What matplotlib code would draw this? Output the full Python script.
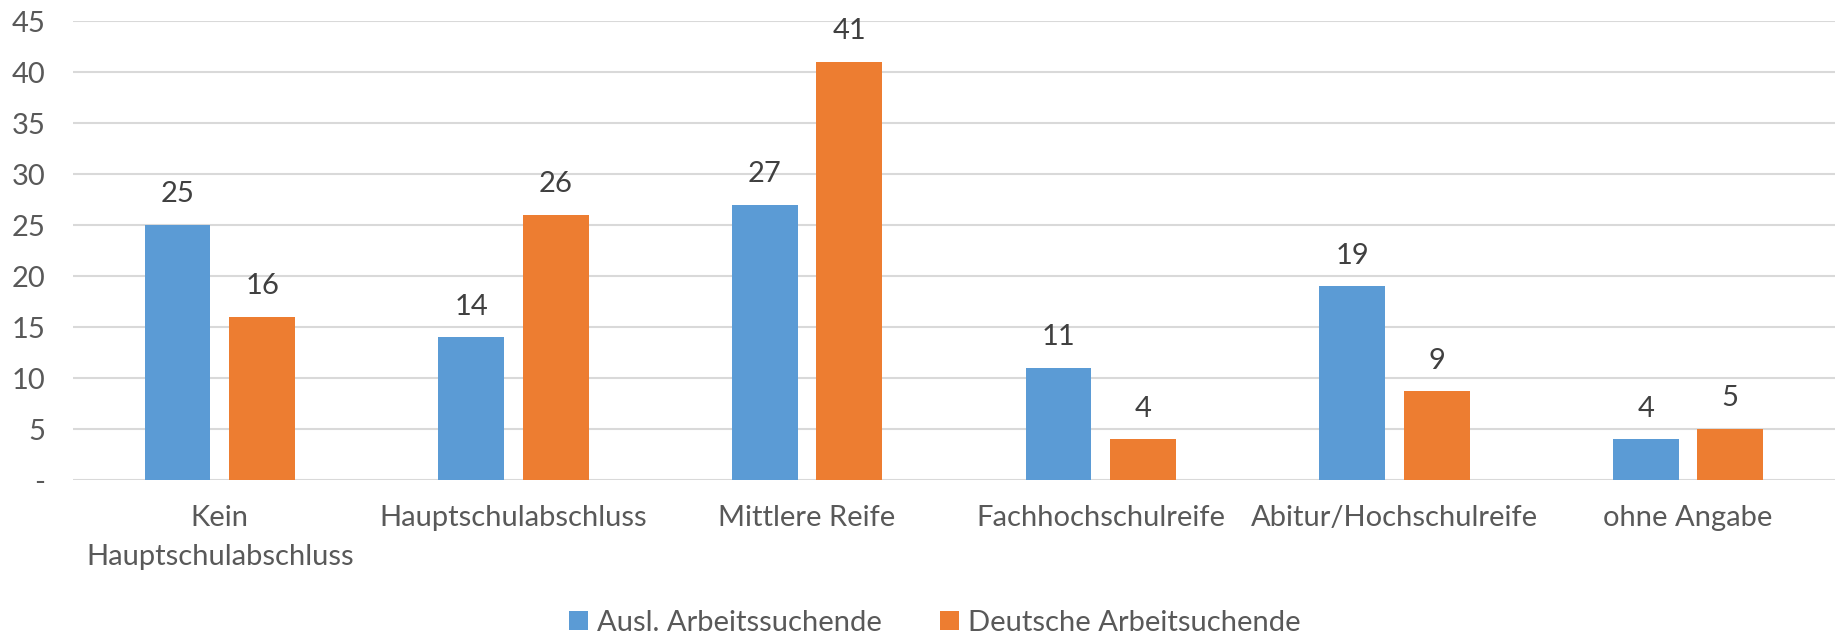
import matplotlib
matplotlib.use("Agg")
import matplotlib.pyplot as plt
import numpy as np
from matplotlib.patches import Patch

categories = ["Kein\nHauptschulabschluss", "Hauptschulabschluss", "Mittlere Reife",
              "Fachhochschulreife", "Abitur/Hochschulreife", "ohne Angabe"]
ausl = [25, 14, 27, 11, 19, 4]
deutsche = [16, 26, 41, 4, 8.7, 5]
series_names = ["Ausl. Arbeitssuchende", "Deutsche Arbeitsuchende"]
yticks = [0, 5, 10, 15, 20, 25, 30, 35, 40, 45]
yticklabels = ["-", "5", "10", "15", "20", "25", "30", "35", "40", "45"]

blue = "#5B9BD5"
orange = "#ED7D31"
tick_color = "#595959"
label_color = "#404040"

plt.rcParams['font.family'] = ['Lato', 'DejaVu Sans']

fig = plt.figure(figsize=(18.44, 6.38), dpi=100)
ax = fig.add_axes([0.0396, 0.2476, 0.9554, 0.7194])

x = np.arange(len(categories))
w = 0.224
off = 0.144
b1 = ax.bar(x - off, ausl, w, color=blue, zorder=3)
b2 = ax.bar(x + off, deutsche, w, color=orange, zorder=3)

for bars, vals in ((b1, ausl), (b2, deutsche)):
    for rect, v in zip(bars, vals):
        ax.annotate(f"{round(v):d}", (rect.get_x() + rect.get_width() / 2, v),
                    xytext=(0, 22), textcoords="offset points",
                    ha="center", va="center", fontsize=21, color=label_color)

ax.set_xlim(-0.5, len(categories) - 0.5)
ax.set_ylim(0, 45)
ax.set_yticks(yticks)
ax.set_yticklabels(yticklabels)
ax.set_xticks(x)
ax.set_xticklabels(categories, linespacing=1.6)
ax.tick_params(axis="y", length=0, pad=20, labelsize=21, labelcolor=tick_color)
ax.tick_params(axis="x", length=0, pad=18, labelsize=21, labelcolor=tick_color)
ax.grid(axis="y", color="#D9D9D9", linewidth=1.5, zorder=0)
for s in ax.spines.values():
    s.set_visible(False)

handles = [Patch(facecolor=blue), Patch(facecolor=orange)]
fig.legend(handles, series_names, loc="center", bbox_to_anchor=(0.507, 0.024),
           ncol=2, frameon=False, fontsize=21, labelcolor=tick_color,
           handlelength=0.65, handleheight=0.65, handletextpad=0.3, columnspacing=2.0)

fig.savefig("out.png", dpi=100)
